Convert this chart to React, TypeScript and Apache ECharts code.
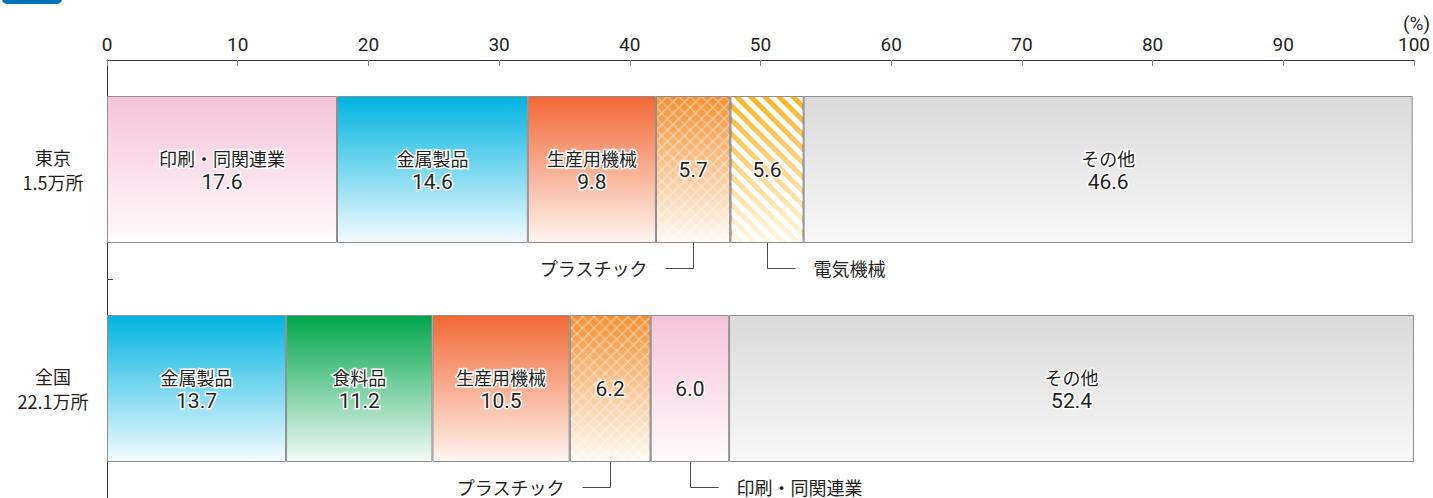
import React, { useEffect, useRef } from 'react';
import * as echarts from 'echarts';

// ---- data ----
const regionNames = ['東京', '全国'];
const regionCounts = ['1.5万所', '22.1万所'];

const tokyoIndustries = ['印刷・同関連業', '金属製品', '生産用機械', 'プラスチック', '電気機械', 'その他'];
const tokyoShares = [17.6, 14.6, 9.8, 5.7, 5.6, 46.6];

const nationalIndustries = ['金属製品', '食料品', '生産用機械', 'プラスチック', '印刷・同関連業', 'その他'];
const nationalShares = [13.7, 11.2, 10.5, 6.2, 6.0, 52.4];

const tokyoCallouts = ['プラスチック', '電気機械'];
const nationalCallouts = ['プラスチック', '印刷・同関連業'];

const axisMin = 0;
const axisMax = 100;
const axisStep = 10;
const unitLabel = '(%)';

// ---- styles ----
const NUM_FONT = '"Liberation Sans Narrow", "Arial Narrow", Roboto, sans-serif';
const JP_FONT = '"Noto Sans CJK JP", sans-serif';
const MIX_FONT = '"Liberation Sans Narrow", "Noto Sans CJK JP", sans-serif';
const TEXT = '#231F20';
const BAR_WIDTH = 147;

const crossDecal = {
  symbol: 'path://M4.6,0 L5.4,0 L5.4,10 L4.6,10 Z M0,4.6 L10,4.6 L10,5.4 L0,5.4 Z',
  symbolSize: 1,
  dashArrayX: [[8, 0]],
  dashArrayY: [8, 0],
  rotation: Math.PI / 4,
  color: 'rgba(255,255,255,0.95)',
};
const stripeDecal = {
  symbol: 'rect',
  symbolSize: 1,
  dashArrayX: [[1, 0]],
  dashArrayY: [5, 5],
  rotation: Math.PI / 4,
  color: '#ffffff',
};

const industryStyle: Record<string, { top: string; bottom: string; decal?: any }> = {
  '印刷・同関連業': { top: '#F6C3D9', bottom: '#FFFBFC' },
  '金属製品': { top: '#00B4E1', bottom: '#F4FBFE' },
  '生産用機械': { top: '#F26835', bottom: '#FEF5F0' },
  'プラスチック': { top: '#F39132', bottom: '#FFFAF4', decal: crossDecal },
  '電気機械': { top: '#FBB526', bottom: '#FFF7E6', decal: stripeDecal },
  '食料品': { top: '#00A64C', bottom: '#F4FAF6' },
  'その他': { top: '#DADADA', bottom: '#F8F8F8' },
};

const rows = [
  { industries: tokyoIndustries, shares: tokyoShares, callouts: tokyoCallouts },
  { industries: nationalIndustries, shares: nationalShares, callouts: nationalCallouts },
];

function gradient(top: string, bottom: string) {
  return {
    type: 'linear', x: 0, y: 0, x2: 0, y2: 1,
    colorStops: [{ offset: 0, color: top }, { offset: 1, color: bottom }],
  };
}

export default function App() {
  const ref = useRef<HTMLDivElement>(null);

  useEffect(() => {
    if (!ref.current) return;
    const chart = echarts.init(ref.current, undefined, { renderer: 'svg' });

    const segCount = Math.max(...rows.map((r) => r.industries.length));
    const richBase = { textBorderColor: '#fff', textBorderWidth: 3, color: TEXT };
    const barSeries = Array.from({ length: segCount }, (_, s) => ({
      type: 'bar',
      name: 'seg' + s,
      stack: 'share',
      barWidth: BAR_WIDTH,
      data: rows.map((row) => {
        const name = row.industries[s];
        const st = industryStyle[name];
        return {
          value: row.shares[s],
          itemStyle: {
            color: gradient(st.top, st.bottom),
            decal: st.decal,
            borderColor: '#8E8E8E',
            borderWidth: 1,
          },
        };
      }),
      label: {
        show: true,
        position: 'inside',
        formatter: (p: any) => {
          const row = rows[p.dataIndex];
          const name = row.industries[s];
          const v = row.shares[s].toFixed(1);
          return row.callouts.includes(name) ? `{v|${v}}` : `{n|${name}}\n{v|${v}}`;
        },
        rich: {
          n: { ...richBase, fontFamily: JP_FONT, fontSize: 18, lineHeight: 24 },
          v: { ...richBase, fontFamily: NUM_FONT, fontSize: 21, lineHeight: 24 },
        },
      },
    }));

    const calloutData = rows.flatMap((row, r) =>
      row.callouts.map((name, k) => {
        const idx = row.industries.indexOf(name);
        const start = row.shares.slice(0, idx).reduce((a, b) => a + b, 0);
        return { value: [start + row.shares[idx] / 2, r, k === 0 ? -1 : 1], name };
      })
    );

    const calloutSeries = {
      type: 'custom',
      coordinateSystem: 'cartesian2d',
      encode: { x: 0, y: 1 },
      clip: false,
      z: 10,
      silent: true,
      data: calloutData,
      renderItem: (params: any, api: any) => {
        const x = api.value(0);
        const r = api.value(1);
        const dir = api.value(2);
        const name = calloutData[params.dataIndex].name;
        const pt = api.coord([x, r]);
        const px = Math.round(pt[0]) + 0.5;
        const y0 = pt[1] + BAR_WIDTH / 2;
        const y1 = Math.round(y0 + 25) + 0.5;
        const x1 = px + dir * 28;
        return {
          type: 'group',
          children: [
            {
              type: 'polyline',
              shape: { points: [[px, y0], [px, y1], [x1, y1]] },
              style: { stroke: '#4a4a4a', lineWidth: 1, fill: null },
            },
            {
              type: 'text',
              style: {
                x: x1 + dir * 18,
                y: y1 - 1,
                text: name,
                align: dir < 0 ? 'right' : 'left',
                verticalAlign: 'middle',
                fill: TEXT,
                font: `18px ${JP_FONT}`,
              },
            },
          ],
        };
      },
    };

    chart.setOption({
      animation: false,
      backgroundColor: '#ffffff',
      grid: { left: 107, right: 19, top: 60, bottom: 0, containLabel: false },
      xAxis: {
        type: 'value',
        position: 'top',
        min: axisMin,
        max: axisMax,
        interval: axisStep,
        axisLine: { show: true, lineStyle: { color: '#333', width: 1 } },
        axisTick: { show: true, inside: true, length: 6, lineStyle: { color: '#888' } },
        axisLabel: { fontSize: 19, color: TEXT, margin: 6, fontFamily: NUM_FONT },
        splitLine: { show: false },
      },
      yAxis: {
        type: 'category',
        inverse: true,
        data: regionNames.map((n, i) => n + '\n' + regionCounts[i]),
        axisLine: { show: true, onZero: false, lineStyle: { color: '#333', width: 1 } },
        axisTick: { show: true, inside: true, length: 6, lineStyle: { color: '#444' } },
        axisLabel: {
          margin: 54,
          align: 'center',
          fontSize: 18,
          lineHeight: 25,
          color: TEXT,
          fontFamily: MIX_FONT,
        },
      },
      graphic: [
        {
          type: 'rect',
          shape: { x: 2, y: -8, width: 60, height: 12, r: 5 },
          style: { fill: '#0072BC' },
        },
        {
          type: 'text',
          right: 3,
          top: 14,
          style: { text: unitLabel, font: `19px ${NUM_FONT}`, fill: TEXT },
        },
      ],
      series: [...barSeries, calloutSeries],
    });

    return () => chart.dispose();
  }, []);

  return (
    <div
      ref={ref}
      style={{ position: 'absolute', left: 0, top: 0, width: 1433, height: 498 }}
    />
  );
}
